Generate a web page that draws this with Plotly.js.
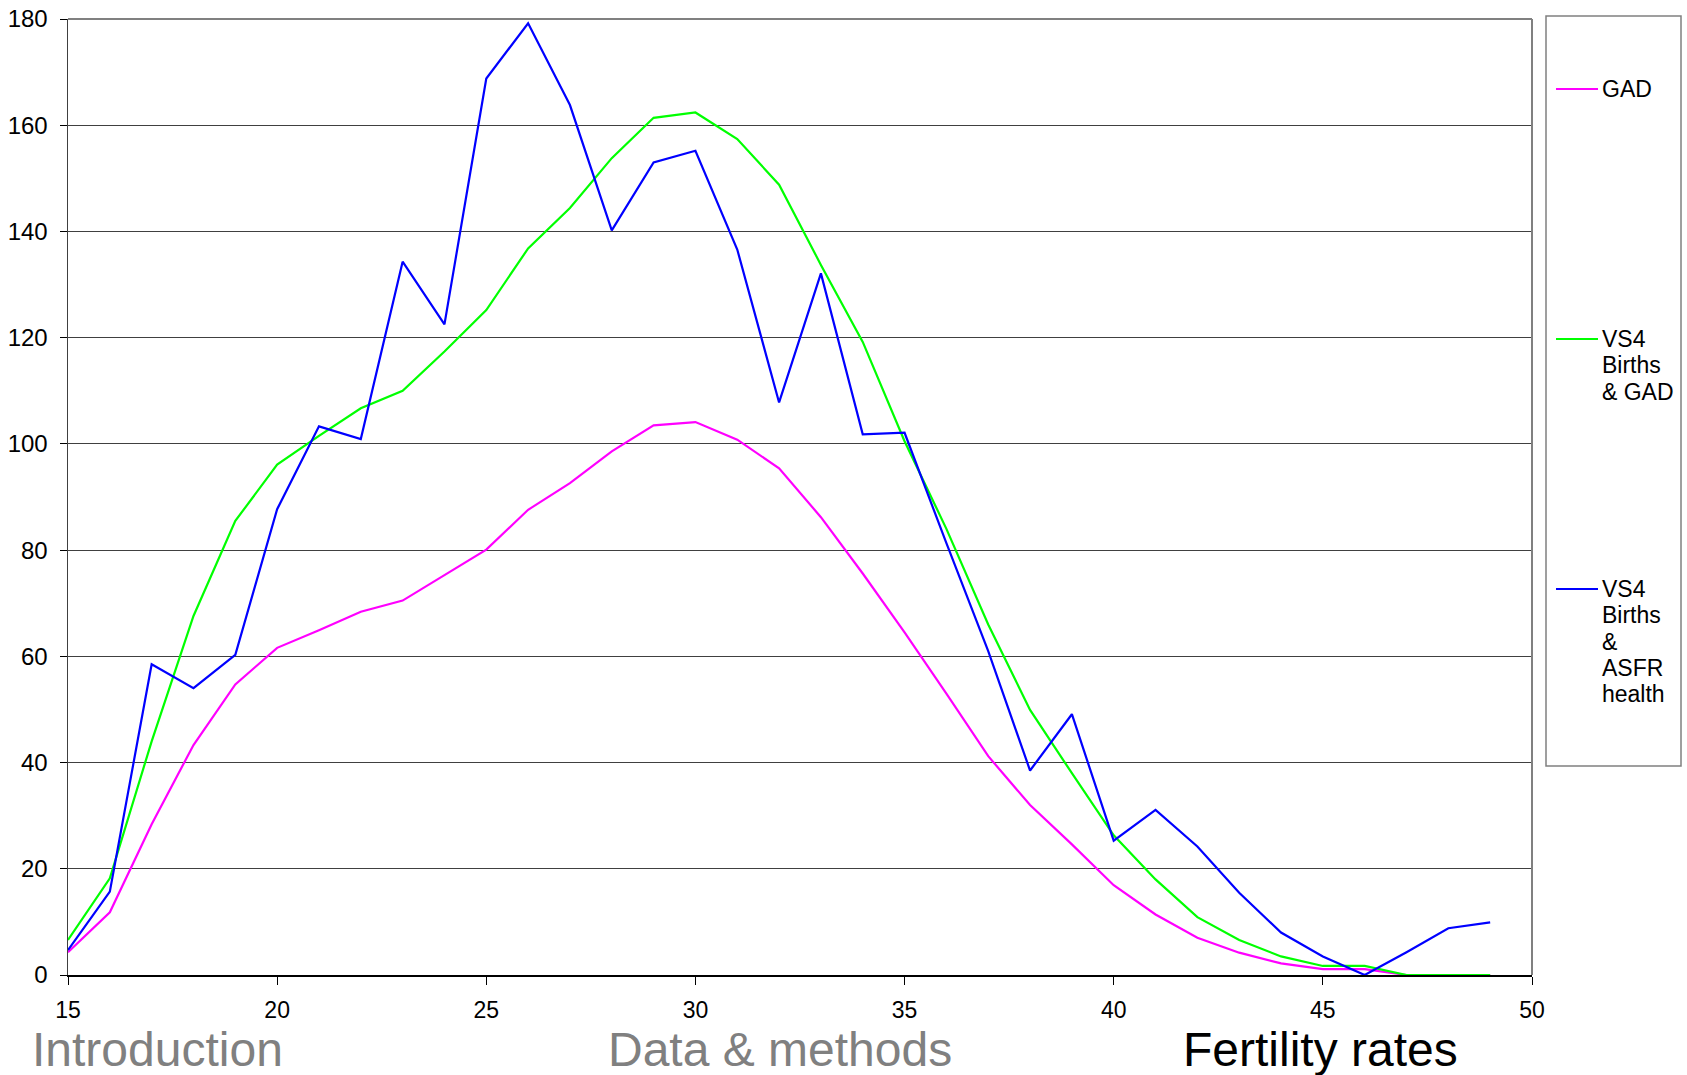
<!DOCTYPE html>
<html>
<head>
<meta charset="utf-8">
<script src="https://cdn.plot.ly/plotly-3.0.1.min.js"></script>
<style>html,body{margin:0;padding:0;background:#fff;}#chart{width:1687px;height:1075px;}</style>
</head>
<body>
<div id="chart"></div>
<script>
const ages = [15,16,17,18,19,20,21,22,23,24,25,26,27,28,29,30,31,32,33,34,35,36,37,38,39,40,41,42,43,44,45,46,47,48,49];
const gad = [4.3,11.8,28.4,43.3,54.7,61.6,64.9,68.4,70.5,75.3,80.1,87.6,92.6,98.6,103.5,104.1,100.8,95.4,86.2,75.6,64.5,53.0,41.2,32.0,24.6,16.9,11.4,7.0,4.2,2.2,1.1,1.1,0,0,0];
const vs4Gad = [6.6,18.2,44.0,67.6,85.5,96.1,101.5,106.7,110.0,117.4,125.2,136.8,144.4,153.8,161.4,162.4,157.4,148.8,133.7,119.2,100.5,84.0,66.0,49.9,38.0,26.3,18.0,10.9,6.6,3.5,1.7,1.7,0,0,0];
const vs4Asfr = [4.7,15.7,58.5,54.0,60.3,87.7,103.3,100.9,134.3,122.5,168.8,179.2,163.8,140.2,153.0,155.2,136.6,107.8,132.1,101.8,102.1,81.3,61.0,38.5,49.1,25.3,31.1,24.2,15.5,8.0,3.5,0,4.3,8.8,9.9];

const seriesNames = ["GAD", "VS4 Births & GAD", "VS4 Births & ASFR health"];
const legendLines = [["GAD"], ["VS4", "Births", "& GAD"], ["VS4", "Births", "&", "ASFR", "health"]];
const seriesColors = ["#FF00FF", "#00FF00", "#0000FF"];
const footerLabels = ["Introduction", "Data & methods", "Fertility rates"];
const footerColors = ["#808080", "#808080", "#000000"];

const FONT = "Liberation Sans, Arial, sans-serif";
// plot area in pixels
const L = 68, R = 1532, T = 19, B = 975, W = 1687, H = 1075;
const px = x => (x - L) / (R - L);
const py = y => (B - y) / (B - T);

const data = [gad, vs4Gad, vs4Asfr].map((ys, i) => ({
  x: ages, y: ys, type: 'scatter', mode: 'lines', name: seriesNames[i],
  line: {color: seriesColors[i], width: 2.2}, showlegend: false
}));

const shapes = [
  {type:'line', xref:'paper', yref:'paper', x0:0, x1:1, y0:1, y1:1, line:{color:'#808080', width:2}},
  {type:'line', xref:'paper', yref:'paper', x0:1, x1:1, y0:0, y1:1, line:{color:'#808080', width:2}},
  {type:'rect', xref:'paper', yref:'paper', x0:px(1546), x1:px(1681), y0:py(766), y1:py(16), line:{color:'#808080', width:1.5}, fillcolor:'rgba(0,0,0,0)'}
];
const annotations = [];
const legendY = [89, 339, 589];
const lineGap = 26.3;
legendLines.forEach((lines, i) => {
  shapes.push({type:'line', xref:'paper', yref:'paper', x0:px(1556), x1:px(1598), y0:py(legendY[i]), y1:py(legendY[i]), line:{color:seriesColors[i], width:2}});
  lines.forEach((t, j) => {
    annotations.push({xref:'paper', yref:'paper', x:px(1600), y:py(legendY[i] + j*lineGap), xanchor:'left', yanchor:'middle', text:t, showarrow:false, font:{family:FONT, size:23, color:'#000'}});
  });
});
const footerX = [30, 606, 1181];
footerLabels.forEach((t, i) => {
  annotations.push({xref:'paper', yref:'paper', x:px(footerX[i]), y:py(1049), xanchor:'left', yanchor:'middle', text:t, showarrow:false, font:{family:FONT, size:48, color:footerColors[i]}});
});

const layout = {
  width: W, height: H,
  margin: {l: L, r: W - R, t: T, b: H - B, pad: 0},
  paper_bgcolor: '#fff', plot_bgcolor: '#fff',
  font: {family: FONT, size: 23, color: '#000'},
  xaxis: {range: [15, 50], tickvals: [15,20,25,30,35,40,45,50], ticks: 'outside', ticklen: 8, tickcolor: '#000', tickwidth: 1,
    showgrid: false, zeroline: false, showline: true, linecolor: '#000', linewidth: 1.5, ticklabelstandoff: 6,
    tickfont: {family: FONT, size: 23, color: '#000'}},
  yaxis: {range: [0, 180], tickvals: [0,20,40,60,80,100,120,140,160,180], ticks: 'outside', ticklen: 7, tickcolor: '#000', tickwidth: 1,
    showgrid: true, gridcolor: '#404040', gridwidth: 1, zeroline: false, showline: true, linecolor: '#404040', linewidth: 1.5,
    ticklabelstandoff: 7, tickfont: {family: FONT, size: 24, color: '#000'}},
  shapes: shapes,
  annotations: annotations,
  showlegend: false
};
Plotly.newPlot('chart', data, layout, {displayModeBar: false, staticPlot: true});
</script>
</body>
</html>
